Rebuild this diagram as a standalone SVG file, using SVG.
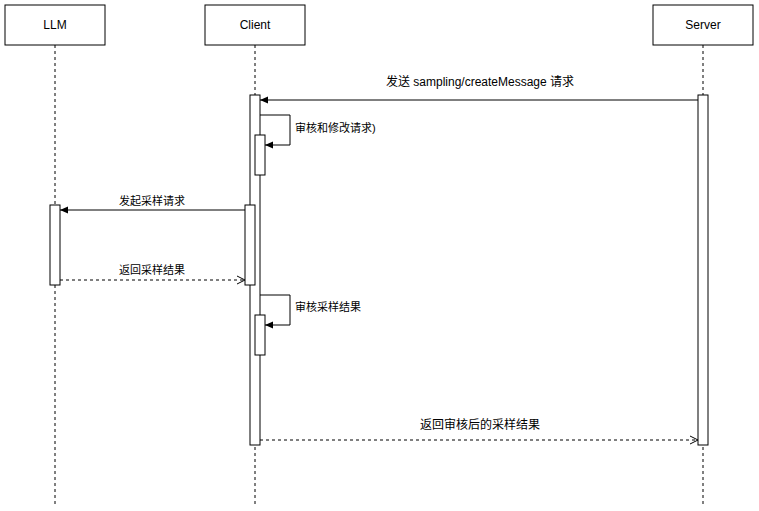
<svg xmlns="http://www.w3.org/2000/svg" width="759" height="511" viewBox="0 0 759 511">
<style>
.box{fill:#fff;stroke:#000;stroke-width:1}
.life{stroke:#000;stroke-dasharray:3 3;fill:none}
.t{font-family:"Liberation Sans","Noto Sans CJK SC",sans-serif;font-size:12px;fill:#000}
.m{stroke:#000;fill:none}
.d{stroke:#000;fill:none;stroke-dasharray:3 3}
</style>
<defs>
<marker id="f" markerWidth="10" markerHeight="10" refX="9" refY="5" orient="auto" markerUnits="userSpaceOnUse"><path d="M1,1.5 L9,5 L1,8.5 Z" fill="#000"/></marker>
<marker id="o" markerWidth="10" markerHeight="10" refX="9" refY="5" orient="auto" markerUnits="userSpaceOnUse"><path d="M1,1 L9,5 L1,9" fill="none" stroke="#000"/></marker>
</defs>
<rect width="759" height="511" fill="#fff"/>
<g id="LLM"><rect class="box" x="5" y="5" width="100" height="40"/><text class="t" x="55" y="29" text-anchor="middle">LLM</text><path class="life" d="M55,45V505"/><rect class="box" x="50" y="205" width="10" height="80"/></g>
<g id="Client"><rect class="box" x="205" y="5" width="100" height="40"/><text class="t" x="255" y="29" text-anchor="middle">Client</text><path class="life" d="M255,45V505"/><rect class="box" x="250" y="95" width="10" height="350"/><rect class="box" x="255" y="135" width="10" height="40"/><rect class="box" x="245" y="205" width="10" height="80"/><rect class="box" x="255" y="315" width="10" height="40"/></g>
<g id="Server"><rect class="box" x="653" y="5" width="100" height="40"/><text class="t" x="703" y="29" text-anchor="middle">Server</text><path class="life" d="M703,45V505"/><rect class="box" x="698" y="95" width="10" height="350"/></g>
<g id="connectors">
<path class="m" d="M698,100H260" marker-end="url(#f)"/>
<text class="t" x="480" y="86" text-anchor="middle">发送 sampling/createMessage 请求</text>
<path class="m" d="M260,115H290V145H265" marker-end="url(#f)"/>
<text class="t" x="295" y="132" style="font-size:11px">审核和修改请求)</text>
<path class="m" d="M245,210H60" marker-end="url(#f)"/>
<text class="t" x="152" y="205" text-anchor="middle" style="font-size:11px">发起采样请求</text>
<path class="d" d="M60,280H245" marker-end="url(#o)"/>
<text class="t" x="152" y="274" text-anchor="middle" style="font-size:11px">返回采样结果</text>
<path class="m" d="M260,295H290V325H265" marker-end="url(#f)"/>
<text class="t" x="295" y="311" style="font-size:11px">审核采样结果</text>
<path class="d" d="M260,440H698" marker-end="url(#o)"/>
<text class="t" x="480" y="429" text-anchor="middle">返回审核后的采样结果</text>
</g>
</svg>
